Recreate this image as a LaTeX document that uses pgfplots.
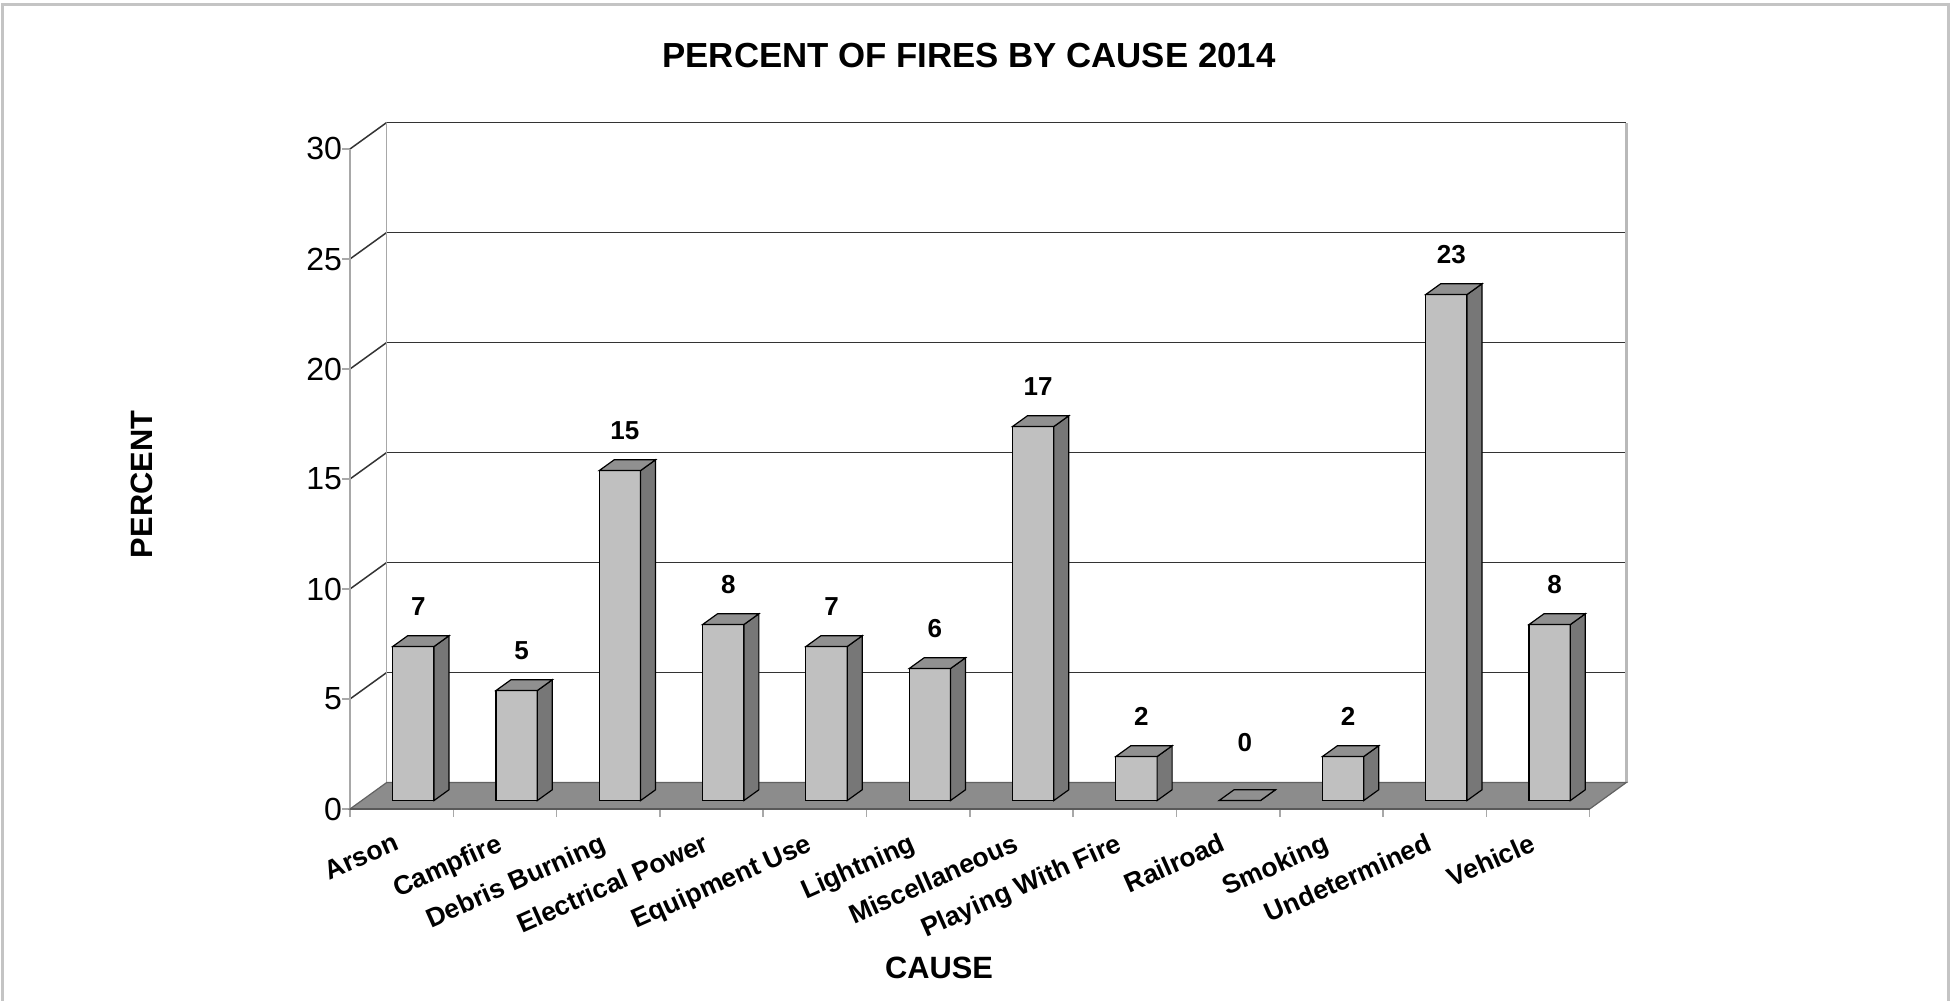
\documentclass[border=0pt]{standalone}
\usepackage{pgfplots}
\pgfplotsset{compat=1.18}
\usepackage{pgfplotstable}
\usepackage{fontspec}
\setmainfont{Liberation Sans}
\definecolor{barfront}{HTML}{C0C0C0}
\definecolor{barside}{HTML}{777777}
\definecolor{bartop}{HTML}{909090}
\definecolor{floorc}{HTML}{8C8C8C}
\definecolor{gridc}{HTML}{333333}
\definecolor{wallc}{HTML}{A8A8A8}
\definecolor{framec}{HTML}{C4C4C4}

\pgfplotstableread{
x v
0 7
1 5
2 15
3 8
4 7
5 6
6 17
7 2
8 0
9 2
10 23
11 8
}\causedata

\begin{document}
\begin{tikzpicture}[x=1pt,y=1pt]
\useasboundingbox (0,0) rectangle (978.5,500);
\fill[white] (0,0) rectangle (978.5,500);
\draw[framec, line width=1.5pt] (1.2,-5) -- (1.2,497.6) -- (974,497.6) -- (974,-5);
\node[font=\bfseries\fontsize{17.4}{18}\selectfont] at (484.5,472.1) {PERCENT OF FIRES BY CAUSE 2014};
\node[font=\bfseries\fontsize{15.4}{16}\selectfont, rotate=90] at (71,257.75) {PERCENT};
\node[font=\bfseries\fontsize{15.4}{16}\selectfont] at (469.5,16.15) {CAUSE};
\begin{axis}[
  at={(175pt,95.5pt)}, anchor=south west,
  scale only axis, width=638.1pt, height=343.2pt,
  xmin=-0.5, xmax=11.854, ymin=-0.384, ymax=30.816,
  axis line style={draw=none},
  clip=false,
  tick pos=left,
  tick align=outside,
  major tick length=4pt,
  tick style={wallc, line width=0.8pt},
  ytick={-0.384,4.616,9.616,14.616,19.616,24.616,29.616},
  yticklabels={0,5,10,15,20,25,30},
  yticklabel style={font=\fontsize{16}{16}\selectfont, anchor=east, xshift=3.5pt},
  xtick={-0.5,0.5,...,11.5},
  xticklabels={,,,,,,,,,,,,},
  extra x ticks={0,1,2,3,4,5,6,7,8,9,10,11},
  extra x tick labels={Arson,Campfire,Debris Burning,Electrical Power,Equipment Use,Lightning,Miscellaneous,Playing With Fire,Railroad,Smoking,Undetermined,Vehicle},
  extra x tick style={major tick length=0pt, xticklabel style={rotate=24, anchor=north east, inner sep=0pt, font=\bfseries\fontsize{13.3}{14}\selectfont, xshift=-8.8pt, yshift=-8.7pt}},
]
% back wall grid lines
\draw[gridc, line width=0.75pt] (axis cs:-0.146,5.816) -- (axis cs:11.854,5.816);
\draw[gridc, line width=0.75pt] (axis cs:-0.146,10.816) -- (axis cs:11.854,10.816);
\draw[gridc, line width=0.75pt] (axis cs:-0.146,15.816) -- (axis cs:11.854,15.816);
\draw[gridc, line width=0.75pt] (axis cs:-0.146,20.816) -- (axis cs:11.854,20.816);
\draw[gridc, line width=0.75pt] (axis cs:-0.146,25.816) -- (axis cs:11.854,25.816);
\draw[gridc, line width=0.75pt] (axis cs:-0.146,30.816) -- (axis cs:11.854,30.816);
% side wall diagonals
\draw[gridc, line width=0.75pt] (axis cs:-0.5,4.616) -- (axis cs:-0.146,5.816);
\draw[gridc, line width=0.75pt] (axis cs:-0.5,9.616) -- (axis cs:-0.146,10.816);
\draw[gridc, line width=0.75pt] (axis cs:-0.5,14.616) -- (axis cs:-0.146,15.816);
\draw[gridc, line width=0.75pt] (axis cs:-0.5,19.616) -- (axis cs:-0.146,20.816);
\draw[gridc, line width=0.75pt] (axis cs:-0.5,24.616) -- (axis cs:-0.146,25.816);
\draw[gridc, line width=0.75pt] (axis cs:-0.5,29.616) -- (axis cs:-0.146,30.816);
% wall edges
\draw[wallc, line width=0.8pt] (axis cs:-0.5,-0.384) -- (axis cs:-0.5,29.616);
\draw[wallc, line width=0.8pt] (axis cs:-0.146,0.816) -- (axis cs:-0.146,30.816);
\draw[wallc!80, line width=1.3pt] (axis cs:11.854,0.816) -- (axis cs:11.854,30.816);
% floor
\addplot[fill=floorc, draw=floorc!70!black, line width=0.6pt, forget plot] coordinates {(-0.5,-0.384) (11.5,-0.384) (11.854,0.816) (-0.146,0.816)} -- cycle;
\draw[black!65, line width=1.2pt] (axis cs:-0.5,-0.384) -- (axis cs:11.5,-0.384);
% bar front faces
\addplot[ybar, bar width=0.4, bar shift=0pt, fill=barfront, draw=black, line width=0.6pt,
  nodes near coords={\pgfmathprintnumber[assume math mode=true]{\pgfplotspointmeta}},
  visualization depends on={\thisrow{v} \as \lv},
  every node near coord/.append style={font=\bfseries\fontsize{13}{13}\selectfont, black, anchor=center, xshift=2.5pt, yshift={(20+9*(\lv==0))*1pt}}]
  table[x expr=\thisrow{x}+0.113, y=v] {\causedata};
% bar side and top faces
\addplot[scatter, only marks, mark=*, mark size=0pt,
  visualization depends on={\thisrow{v} \as \val},
  scatter/@pre marker code/.code={%
    \pgfmathsetlengthmacro\hlen{\val*11pt}%
    \filldraw[fill=barside, draw=black, line width=0.6pt] (0pt,0pt) -- (7.49pt,5.39pt) -- (7.49pt,{5.39pt-\hlen}) -- (0pt,-\hlen) -- cycle;
    \filldraw[fill=bartop, draw=black, line width=0.6pt] (0pt,0pt) -- (7.49pt,5.39pt) -- (-13.17pt,5.39pt) -- (-20.66pt,0pt) -- cycle;
    \begin{scope}},
  scatter/@post marker code/.code={\end{scope}}]
  table[x expr=\thisrow{x}+0.313, y=v] {\causedata};
\end{axis}
\end{tikzpicture}
\end{document}
